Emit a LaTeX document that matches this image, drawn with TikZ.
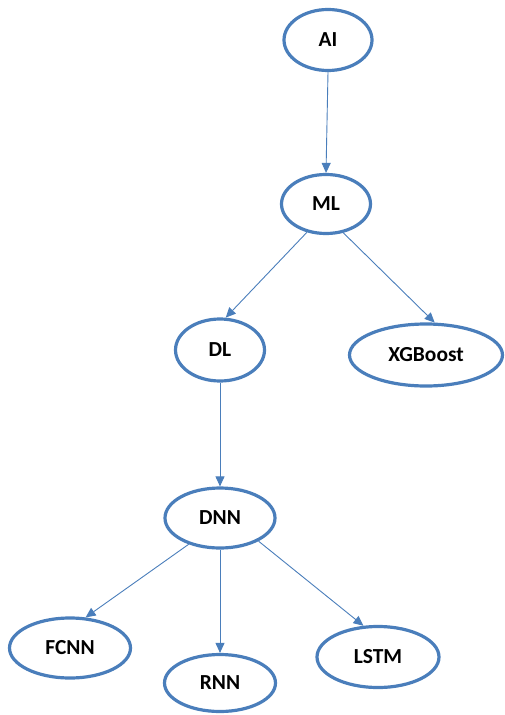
\documentclass[tikz,border=0pt]{standalone}
\usepackage{fontspec}
\setmainfont{Carlito}
\usetikzlibrary{shapes.geometric,arrows.meta}
\definecolor{edgeblue}{RGB}{74,126,187}
\tikzset{
  concept/.style={ellipse, draw=edgeblue, line width=3.2bp, fill=white,
    inner sep=0pt, font=\bfseries\fontsize{21.5}{21.5}\selectfont},
  link/.style={draw=edgeblue, line width=0.9bp,
    -{Triangle[length=10bp,width=9bp]}}
}
\begin{document}
\begin{tikzpicture}[x=1bp,y=-1bp]
  \useasboundingbox (0,0) rectangle (505,715);
  \node[concept, minimum width=88bp, minimum height=61bp] (ai) at (328,40) {AI};
  \node[concept, minimum width=89bp, minimum height=59bp] (ml) at (326,204) {ML};
  \node[concept, minimum width=89bp, minimum height=62bp] (dl) at (220,350) {DL};
  \node[concept, minimum width=153bp, minimum height=62bp] (xgb) at (426,355) {XGBoost};
  \node[concept, minimum width=110bp, minimum height=60bp] (dnn) at (220,518) {DNN};
  \node[concept, minimum width=121bp, minimum height=60bp] (fcnn) at (70,648) {FCNN};
  \node[concept, minimum width=111bp, minimum height=57bp] (rnn) at (220,683) {RNN};
  \node[concept, minimum width=122bp, minimum height=61bp] (lstm) at (378,657) {LSTM};

  \draw[link] (ai.south) -- (ml.north);
  \draw[link] (ml.236) -- (dl.80);
  \draw[link] (ml.301) -- (xgb.75);
  \draw[link] (dl.south) -- (dnn.north);
  \draw[link] (dnn.220) -- (fcnn.63);
  \draw[link] (dnn.south) -- (rnn.north);
  \draw[link] (dnn.329) -- (lstm.115);
\end{tikzpicture}
\end{document}
